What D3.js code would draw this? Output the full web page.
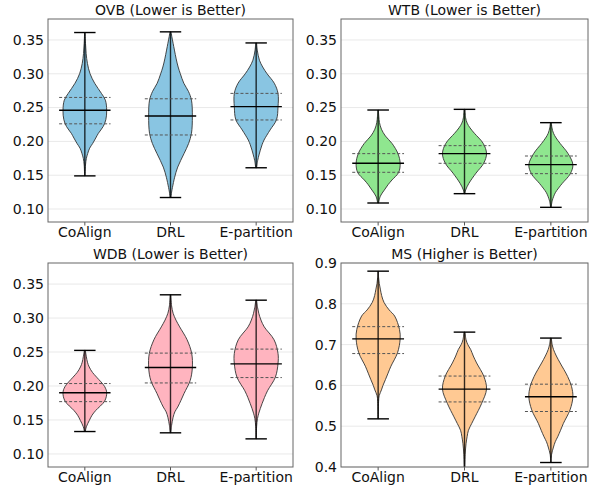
<!DOCTYPE html>
<html>
<head>
<meta charset="utf-8">
<script src="https://cdn.jsdelivr.net/npm/d3@7"></script>
<style>
  body { margin: 0; background: #fff; }
  svg text { font-family: "DejaVu Sans", sans-serif; fill: #111; }
</style>
</head>
<body>
<svg id="svg1" width="591" height="486"></svg>
<script>
'use strict';

// categories and titles
let methods = ["CoAlign", "DRL", "E-partition"];
let titles = ["OVB (Lower is Better)", "WTB (Lower is Better)", "WDB (Lower is Better)", "MS (Higher is Better)"];
let bodyColors = ["#89c5e2", "#8fe68f", "#ffb4bf", "#ffc993"];

// summary stats per metric: one entry per method
let ovbMin = [0.149, 0.117, 0.161];
let ovbQ1 = [0.226, 0.2095, 0.2317];
let ovbMed = [0.246, 0.2376, 0.2514];
let ovbQ3 = [0.265, 0.263, 0.271];
let ovbMax = [0.361, 0.362, 0.3456];

let wtbMin = [0.1089, 0.1227, 0.1025];
let wtbQ1 = [0.1543, 0.1676, 0.1523];
let wtbMed = [0.1676, 0.1819, 0.1656];
let wtbQ3 = [0.1819, 0.1937, 0.1784];
let wtbMax = [0.2464, 0.2474, 0.2277];

let wdbMin = [0.133, 0.1311, 0.1222];
let wdbQ1 = [0.177, 0.2045, 0.2124];
let wdbMed = [0.190, 0.2272, 0.2326];
let wdbQ3 = [0.2036, 0.2484, 0.2543];
let wdbMax = [0.2524, 0.3342, 0.3263];

let msMin = [0.518, 0.39, 0.411];
let msQ1 = [0.678, 0.5595, 0.536];
let msMed = [0.714, 0.5908, 0.572];
let msQ3 = [0.744, 0.6229, 0.603];
let msMax = [0.880, 0.7306, 0.716];

// violin outlines: [value, relative half width]
let ovbShape = [
  [[0.149,0.01],[0.165,0.03],[0.175,0.07],[0.182,0.13],[0.19,0.22],[0.197,0.36],[0.205,0.5],[0.212,0.62],[0.222,0.84],[0.232,0.96],[0.246,1.0],[0.261,0.94],[0.271,0.76],[0.286,0.45],[0.30,0.24],[0.315,0.12],[0.33,0.06],[0.345,0.03],[0.361,0.01]],
  [[0.117,0.02],[0.125,0.05],[0.132,0.09],[0.147,0.19],[0.162,0.33],[0.182,0.62],[0.197,0.83],[0.212,0.96],[0.237,1.0],[0.261,0.96],[0.274,0.82],[0.286,0.61],[0.30,0.45],[0.31,0.35],[0.322,0.26],[0.335,0.18],[0.345,0.12],[0.355,0.06],[0.362,0.02]],
  [[0.161,0.02],[0.172,0.07],[0.18,0.13],[0.187,0.19],[0.195,0.27],[0.202,0.36],[0.217,0.64],[0.232,0.93],[0.251,1.0],[0.271,1.0],[0.286,0.83],[0.30,0.5],[0.31,0.3],[0.32,0.15],[0.335,0.05],[0.3456,0.02]]
];
let wtbShape = [
  [[0.1089,0.02],[0.119,0.1],[0.128,0.28],[0.136,0.45],[0.143,0.63],[0.154,0.93],[0.1676,1.0],[0.182,0.9],[0.197,0.63],[0.208,0.33],[0.218,0.15],[0.228,0.06],[0.237,0.03],[0.2464,0.01]],
  [[0.1227,0.02],[0.128,0.05],[0.138,0.2],[0.153,0.52],[0.1676,0.87],[0.182,1.0],[0.197,0.85],[0.212,0.45],[0.22,0.25],[0.227,0.12],[0.235,0.05],[0.2474,0.02]],
  [[0.1025,0.01],[0.112,0.06],[0.118,0.12],[0.124,0.2],[0.131,0.35],[0.138,0.52],[0.152,0.88],[0.1656,1.0],[0.182,0.78],[0.197,0.42],[0.205,0.24],[0.212,0.12],[0.22,0.05],[0.2277,0.02]]
];
let wdbShape = [
  [[0.133,0.02],[0.14,0.07],[0.149,0.2],[0.157,0.33],[0.164,0.5],[0.178,0.91],[0.19,1.0],[0.199,0.91],[0.213,0.54],[0.22,0.35],[0.228,0.2],[0.235,0.12],[0.243,0.07],[0.2524,0.02]],
  [[0.1311,0.01],[0.142,0.05],[0.154,0.12],[0.162,0.2],[0.169,0.33],[0.179,0.48],[0.189,0.62],[0.208,0.9],[0.227,1.0],[0.248,0.97],[0.268,0.76],[0.287,0.42],[0.297,0.25],[0.307,0.12],[0.318,0.05],[0.3342,0.01]],
  [[0.1222,0.01],[0.14,0.02],[0.152,0.06],[0.16,0.12],[0.167,0.19],[0.174,0.27],[0.183,0.38],[0.193,0.52],[0.213,0.88],[0.233,1.0],[0.248,1.0],[0.268,0.82],[0.287,0.37],[0.297,0.22],[0.307,0.12],[0.316,0.06],[0.3263,0.02]]
];
let msShape = [
  [[0.518,0.01],[0.56,0.02],[0.575,0.05],[0.589,0.15],[0.60,0.22],[0.614,0.33],[0.63,0.45],[0.647,0.58],[0.68,0.88],[0.714,1.0],[0.737,0.97],[0.77,0.75],[0.785,0.5],[0.803,0.27],[0.82,0.16],[0.836,0.1],[0.85,0.05],[0.865,0.02],[0.88,0.01]],
  [[0.39,0.01],[0.43,0.03],[0.457,0.07],[0.475,0.12],[0.49,0.18],[0.507,0.33],[0.523,0.48],[0.556,0.78],[0.591,1.0],[0.622,0.88],[0.655,0.55],[0.672,0.4],[0.688,0.28],[0.70,0.15],[0.712,0.07],[0.7306,0.02]],
  [[0.411,0.01],[0.43,0.03],[0.449,0.12],[0.462,0.2],[0.474,0.31],[0.49,0.44],[0.507,0.57],[0.54,0.87],[0.572,1.0],[0.597,0.94],[0.622,0.76],[0.655,0.42],[0.672,0.25],[0.688,0.12],[0.70,0.06],[0.716,0.02]]
];

// tick labels
let lowerTicks = [0.10, 0.15, 0.20, 0.25, 0.30, 0.35];
let msTicks = [0.4, 0.5, 0.6, 0.7, 0.8, 0.9];

let metrics = [
  {min: ovbMin, q1: ovbQ1, med: ovbMed, q3: ovbQ3, max: ovbMax, shape: ovbShape, ticks: lowerTicks, fmt: ".2f", yDom: [0.0808, 0.381]},
  {min: wtbMin, q1: wtbQ1, med: wtbMed, q3: wtbQ3, max: wtbMax, shape: wtbShape, ticks: lowerTicks, fmt: ".2f", yDom: [0.0808, 0.381]},
  {min: wdbMin, q1: wdbQ1, med: wdbMed, q3: wdbQ3, max: wdbMax, shape: wdbShape, ticks: lowerTicks, fmt: ".2f", yDom: [0.0808, 0.381]},
  {min: msMin, q1: msQ1, med: msMed, q3: msQ3, max: msMax, shape: msShape, ticks: msTicks, fmt: ".1f", yDom: [0.4, 0.9]}
];

// panel boxes in pixels
let boxes = [
  {left: 48, top: 19, width: 245, height: 203},
  {left: 341, top: 19, width: 247, height: 203},
  {left: 48, top: 263, width: 245, height: 204},
  {left: 341, top: 263, width: 247, height: 204}
];

let svg = d3.select("#svg1");
let halfBody = 0.255;   // widest violin half width, x units
let capHalf = 0.125;
let lineHalf = 0.3;

metrics.forEach((m, i) => {
  let b = boxes[i];
  let x = d3.scaleLinear().domain([0.57, 3.43]).range([0, b.width]);
  let y = d3.scaleLinear().domain(m.yDom).range([b.height, 0]);
  let g = svg.append("g").attr("transform", `translate(${b.left},${b.top})`);

  g.append("clipPath").attr("id", "clip" + i)
    .append("rect").attr("width", b.width).attr("height", b.height);

  // horizontal grid
  g.selectAll(".grid")
    .data(m.ticks)
    .enter().append("line")
    .attr("x1", 0).attr("x2", b.width)
    .attr("y1", d => y(d)).attr("y2", d => y(d))
    .style("stroke", "#e9e9e9").style("stroke-width", 1);

  let plot = g.append("g").attr("clip-path", `url(#clip${i})`);

  methods.forEach((name, j) => {
    let cx = x(j + 1);
    let area = d3.area()
      .y(d => y(d[0]))
      .x0(d => x(j + 1 - d[1] * halfBody))
      .x1(d => x(j + 1 + d[1] * halfBody))
      .curve(d3.curveCatmullRom);

    plot.append("path")
      .datum(m.shape[j])
      .attr("d", area)
      .style("fill", bodyColors[i])
      .style("stroke", "#333")
      .style("stroke-width", 0.9);

    // whisker line and caps
    plot.append("line")
      .attr("x1", cx).attr("x2", cx)
      .attr("y1", y(m.min[j])).attr("y2", y(m.max[j]))
      .style("stroke", "#000").style("stroke-opacity", 0.8).style("stroke-width", 1.4);
    [m.min[j], m.max[j]].forEach(v => {
      plot.append("line")
        .attr("x1", x(j + 1 - capHalf)).attr("x2", x(j + 1 + capHalf))
        .attr("y1", y(v)).attr("y2", y(v))
        .style("stroke", "#000").style("stroke-width", 1.4);
    });

    // quartiles dashed, median solid
    [m.q1[j], m.q3[j]].forEach(v => {
      plot.append("line")
        .attr("x1", x(j + 1 - lineHalf)).attr("x2", x(j + 1 + lineHalf))
        .attr("y1", y(v)).attr("y2", y(v))
        .style("stroke", "#555").style("stroke-width", 1)
        .style("stroke-dasharray", "3,2");
    });
    plot.append("line")
      .attr("x1", x(j + 1 - lineHalf)).attr("x2", x(j + 1 + lineHalf))
      .attr("y1", y(m.med[j])).attr("y2", y(m.med[j]))
      .style("stroke", "#000").style("stroke-width", 1.4);
  });

  // y tick labels
  g.selectAll(".ylab")
    .data(m.ticks)
    .enter().append("text")
    .attr("x", -4)
    .attr("y", d => y(d))
    .attr("dy", "0.35em")
    .style("text-anchor", "end")
    .style("font-size", "14px")
    .text(d => d3.format(m.fmt)(d));

  // x ticks and labels
  methods.forEach((name, j) => {
    g.append("line")
      .attr("x1", x(j + 1)).attr("x2", x(j + 1))
      .attr("y1", b.height).attr("y2", b.height + 3.5)
      .style("stroke", "#555").style("stroke-width", 1);
    g.append("text")
      .attr("x", x(j + 1))
      .attr("y", b.height + 15)
      .style("text-anchor", "middle")
      .style("font-size", "14px")
      .text(name);
  });

  // frame
  g.append("rect")
    .attr("width", b.width).attr("height", b.height)
    .style("fill", "none").style("stroke", "#666").style("stroke-width", 1);

  g.append("text")
    .attr("x", b.width / 2)
    .attr("y", -4)
    .style("text-anchor", "middle")
    .style("font-size", "14px")
    .text(titles[i]);
});
</script>
</body>
</html>
